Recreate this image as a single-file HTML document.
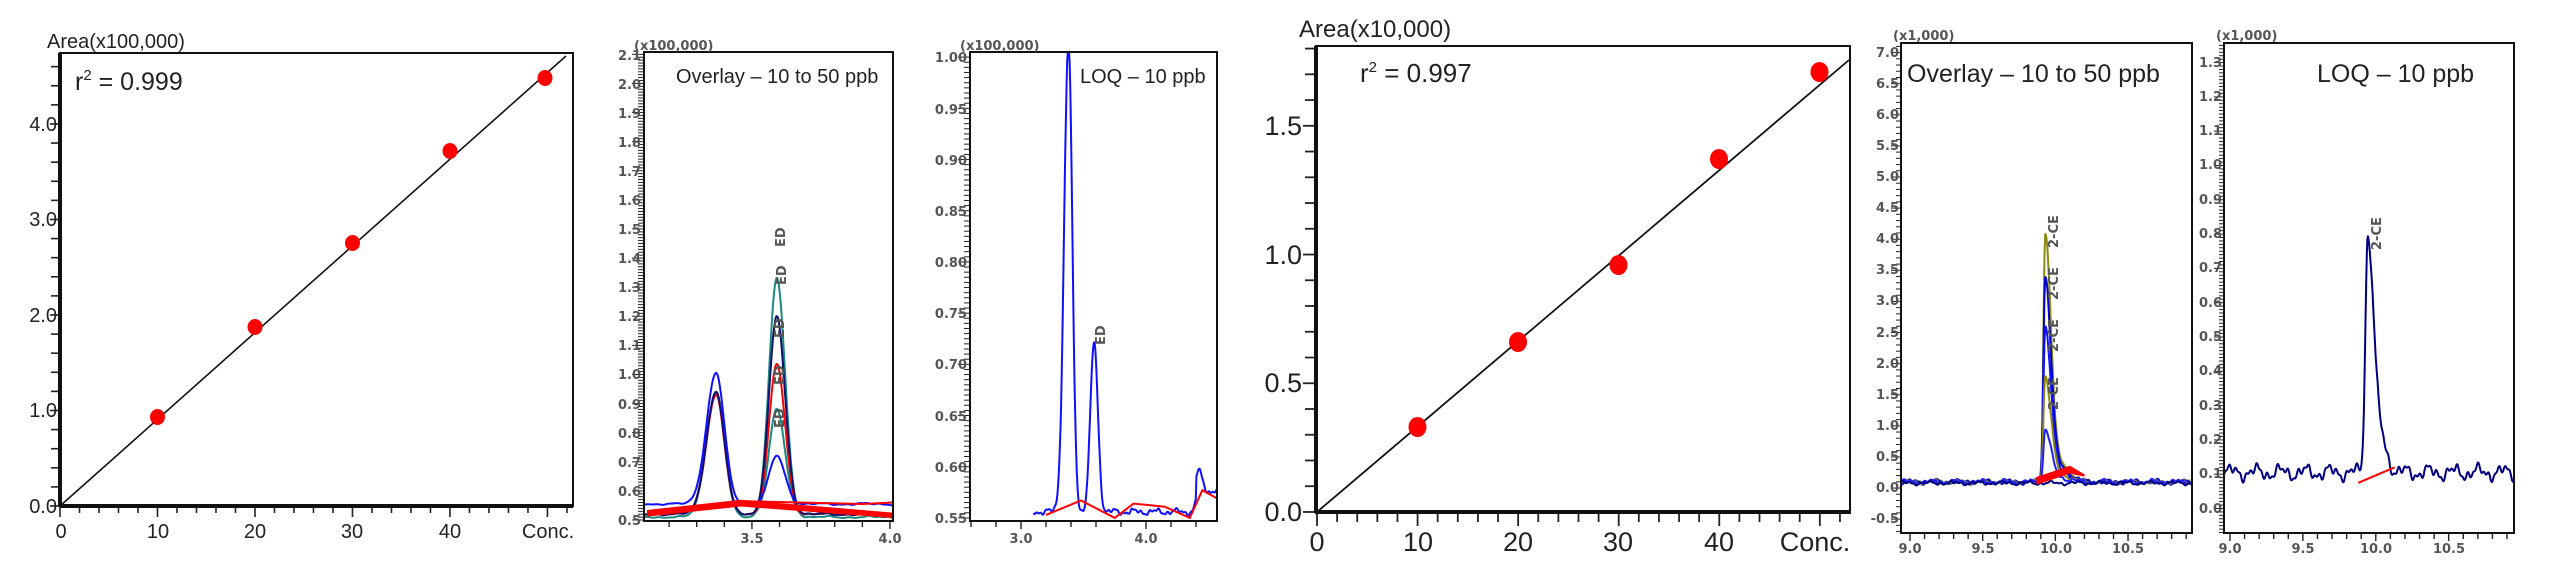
<!DOCTYPE html>
<html><head><meta charset="utf-8"><style>
html,body{margin:0;padding:0;background:#fff;width:2549px;height:582px;overflow:hidden}
svg{display:block}
.a{font-family:"Liberation Sans",sans-serif;fill:#222}
.c{font-family:"DejaVu Sans",sans-serif;font-weight:bold;fill:#555;font-size:13px}
.t{font-family:"Liberation Sans",sans-serif;fill:#222}
</style></head><body>
<svg id="s" width="2549" height="582" viewBox="0 0 2549 582" xmlns="http://www.w3.org/2000/svg">
<g id="g"></g>
<!-- boxes -->
<g fill="none" stroke="#111">
<rect x="60" y="53" width="513" height="453" stroke-width="2"/>
<rect x="644" y="52" width="249" height="469" stroke-width="2"/>
<rect x="970" y="52" width="247" height="469" stroke-width="2"/>
<rect x="1316" y="46" width="534" height="467" stroke-width="2"/>
<rect x="1901" y="43" width="291" height="490" stroke-width="2"/>
<rect x="2224" y="43" width="290" height="490" stroke-width="2"/>
</g>
<line x1="60" y1="53" x2="60" y2="506" stroke="#111" stroke-width="4"/>
<line x1="60" y1="506" x2="573" y2="506" stroke="#111" stroke-width="4"/>
<line x1="1316" y1="46" x2="1316" y2="513" stroke="#111" stroke-width="4"/>
<line x1="1316" y1="512" x2="1850" y2="512" stroke="#111" stroke-width="4"/>
<!-- calibration lines -->
<line x1="60" y1="506" x2="566" y2="56" stroke="#111" stroke-width="1.6"/>
<line x1="1317" y1="512" x2="1849" y2="60" stroke="#111" stroke-width="1.8"/>
<g fill="#f00">
<ellipse cx="157.5" cy="417" rx="7.5" ry="8"/><ellipse cx="255" cy="327" rx="7.5" ry="8"/><ellipse cx="352.5" cy="243" rx="7.5" ry="8"/><ellipse cx="450" cy="151" rx="7.5" ry="8"/><ellipse cx="545" cy="78" rx="7.5" ry="8"/>
<ellipse cx="1417.5" cy="427" rx="9" ry="10"/><ellipse cx="1518" cy="342" rx="9" ry="10"/><ellipse cx="1618.5" cy="265" rx="9" ry="10"/><ellipse cx="1719" cy="159" rx="9" ry="10"/><ellipse cx="1819.5" cy="72" rx="9" ry="10"/>
</g>
<!-- panel 1 text -->
<text class="a" x="47" y="48" font-size="20">Area(x100,000)</text>
<text class="t" x="75" y="90" font-size="25">r<tspan dy="-10" font-size="15">2</tspan><tspan dy="10"> = 0.999</tspan></text>
<g class="a" font-size="20" text-anchor="end">
<text x="57" y="513">0.0</text><text x="57" y="417">1.0</text><text x="57" y="322">2.0</text><text x="57" y="226">3.0</text><text x="57" y="131">4.0</text>
</g>
<g class="a" font-size="20" text-anchor="middle">
<text x="61" y="538">0</text><text x="158" y="538">10</text><text x="255" y="538">20</text><text x="352" y="538">30</text><text x="450" y="538">40</text><text x="548" y="538">Conc.</text>
</g>
<!-- panel 4 text -->
<text class="a" x="1299" y="37" font-size="24">Area(x10,000)</text>
<text class="t" x="1360" y="82" font-size="26">r<tspan dy="-10" font-size="15">2</tspan><tspan dy="10"> = 0.997</tspan></text>
<g class="a" font-size="27" text-anchor="end">
<text x="1302" y="521">0.0</text><text x="1302" y="392">0.5</text><text x="1302" y="264">1.0</text><text x="1302" y="135">1.5</text>
</g>
<g class="a" font-size="27" text-anchor="middle">
<text x="1317" y="551">0</text><text x="1418" y="551">10</text><text x="1518" y="551">20</text><text x="1618" y="551">30</text><text x="1719" y="551">40</text><text x="1815" y="551">Conc.</text>
</g>
<!-- panel 2 text -->
<text class="c" x="634" y="50" font-size="12">(x100,000)</text>
<text class="t" x="676" y="83" font-size="20">Overlay – 10 to  50 ppb</text>
<g class="c" text-anchor="end">
<text x="641" y="525">0.5</text><text x="641" y="496">0.6</text><text x="641" y="467">0.7</text><text x="641" y="438">0.8</text><text x="641" y="409">0.9</text><text x="641" y="379">1.0</text><text x="641" y="350">1.1</text><text x="641" y="321">1.2</text><text x="641" y="292">1.3</text><text x="641" y="263">1.4</text><text x="641" y="234">1.5</text><text x="641" y="205">1.6</text><text x="641" y="176">1.7</text><text x="641" y="147">1.8</text><text x="641" y="118">1.9</text><text x="641" y="89">2.0</text><text x="641" y="60">2.1</text>
</g>
<g class="c" text-anchor="middle"><text x="752" y="543">3.5</text><text x="890" y="543">4.0</text></g>
<!-- panel 3 text -->
<text class="c" x="960" y="50" font-size="12">(x100,000)</text>
<text class="t" x="1080" y="83" font-size="20">LOQ – 10 ppb</text>
<g class="c" text-anchor="end">
<text x="967" y="523">0.55</text><text x="967" y="472">0.60</text><text x="967" y="421">0.65</text><text x="967" y="369">0.70</text><text x="967" y="318">0.75</text><text x="967" y="267">0.80</text><text x="967" y="216">0.85</text><text x="967" y="165">0.90</text><text x="967" y="114">0.95</text><text x="967" y="62">1.00</text>
</g>
<g class="c" text-anchor="middle"><text x="1021" y="543">3.0</text><text x="1146" y="543">4.0</text></g>
<!-- panel 5 text -->
<text class="c" x="1893" y="40" font-size="11">(x1,000)</text>
<text class="t" x="1907" y="82" font-size="25">Overlay – 10 to 50 ppb</text>
<g class="c" text-anchor="end" font-size="12">
<text x="1899" y="523">-0.5</text><text x="1899" y="492">0.0</text><text x="1899" y="461">0.5</text><text x="1899" y="430">1.0</text><text x="1899" y="399">1.5</text><text x="1899" y="368">2.0</text><text x="1899" y="337">2.5</text><text x="1899" y="305">3.0</text><text x="1899" y="274">3.5</text><text x="1899" y="243">4.0</text><text x="1899" y="212">4.5</text><text x="1899" y="181">5.0</text><text x="1899" y="150">5.5</text><text x="1899" y="119">6.0</text><text x="1899" y="88">6.5</text><text x="1899" y="57">7.0</text>
</g>
<g class="c" text-anchor="middle" font-size="12"><text x="1910" y="553">9.0</text><text x="1983" y="553">9.5</text><text x="2056" y="553">10.0</text><text x="2128" y="553">10.5</text></g>
<!-- panel 6 text -->
<text class="c" x="2216" y="40" font-size="11">(x1,000)</text>
<text class="t" x="2317" y="82" font-size="25">LOQ – 10 ppb</text>
<g class="c" text-anchor="end" font-size="12">
<text x="2222" y="513">0.0</text><text x="2222" y="478">0.1</text><text x="2222" y="444">0.2</text><text x="2222" y="410">0.3</text><text x="2222" y="375">0.4</text><text x="2222" y="341">0.5</text><text x="2222" y="307">0.6</text><text x="2222" y="272">0.7</text><text x="2222" y="238">0.8</text><text x="2222" y="204">0.9</text><text x="2222" y="169">1.0</text><text x="2222" y="135">1.1</text><text x="2222" y="101">1.2</text><text x="2222" y="67">1.3</text>
</g>
<g class="c" text-anchor="middle" font-size="12"><text x="2230" y="553">9.0</text><text x="2303" y="553">9.5</text><text x="2376" y="553">10.0</text><text x="2449" y="553">10.5</text></g>
<!-- peak labels -->
<g class="c" font-size="10" fill="#333">
<text transform="translate(785,247) rotate(-90)">ED</text>
<text transform="translate(786,285) rotate(-90)">ED</text>
<text transform="translate(784,338) rotate(-90)">ED</text>
<text transform="translate(784,385) rotate(-90)">ED</text>
<text transform="translate(784,428) rotate(-90)">ED</text>
<text transform="translate(1105,345) rotate(-90)">ED</text>
<text transform="translate(2058,248) rotate(-90)">2-CE</text>
<text transform="translate(2058,300) rotate(-90)">2-CE</text>
<text transform="translate(2058,352) rotate(-90)">2-CE</text>
<text transform="translate(2058,410) rotate(-90)">2-CE</text>
<text transform="translate(2381,250) rotate(-90)">2-CE</text>
</g>
</svg>
<script>
(function(){
var NS="http://www.w3.org/2000/svg",g=document.getElementById("g");
function el(t,a){var e=document.createElementNS(NS,t);for(var k in a)e.setAttribute(k,a[k]);g.appendChild(e);return e;}
function P(L,R,T,B,x0,x1,y0,y1){return{L:L,R:R,T:T,B:B,X:function(v){return L+(v-x0)/(x1-x0)*(R-L)},Y:function(v){return B-(v-y0)/(y1-y0)*(B-T)}};}
var p1=P(60,573,53,506,0,52.62,0,4.743),p4=P(1316,1850,46,513,-0.1,53,-0.004,1.81),
p2=P(644,893,52,521,3.109,4.011,0.4966,2.108),p3=P(970,1217,52,521,2.592,4.568,0.547,1.005),
p5=P(1901,2192,43,533,8.938,10.94,-0.723,7.154),p6=P(2224,2514,43,533,8.959,10.948,-0.0714,1.357);
function yt(p,a,b,s,mj,lm,lM,w){for(var v=a;v<=b+1e-9;v+=s){var y=p.Y(v);if(y<p.T-1||y>p.B+1)continue;var m=Math.abs(v/mj-Math.round(v/mj))<1e-6;el("line",{x1:p.L-(m?lM:lm),x2:p.L,y1:y,y2:y,stroke:"#222","stroke-width":w});}}
function xt(p,a,b,s,mj,lm,lM,w){for(var v=a;v<=b+1e-9;v+=s){var x=p.X(v);if(x<p.L-1||x>p.R+1)continue;var m=Math.abs(v/mj-Math.round(v/mj))<1e-6;el("line",{x1:x,x2:x,y1:p.B,y2:p.B+(m?lM:lm),stroke:"#222","stroke-width":w});}}
yt(p1,0,4.7,0.2,1,9,10,1.6);xt(p1,0,52,2,10,7,11,1.6);
yt(p4,0,1.8,0.1,0.5,11,13,1.8);xt(p4,0,52,2,10,9,13,1.8);
yt(p2,0.5,2.1,0.01,0.1,6,12,1);xt(p2,3.2,4.0,0.1,0.5,6,8,1.4);
yt(p3,0.55,1.0,0.005,0.05,6,12,1);xt(p3,2.6,4.6,0.2,1,6,8,1.4);
yt(p5,-0.7,7.1,0.1,0.5,5,10,1);xt(p5,9.0,10.9,0.1,0.5,6,8,1.4);
yt(p6,-0.07,1.35,0.01,0.1,5,10,1);xt(p6,9.0,10.9,0.1,0.5,6,8,1.4);
function nz(x,s){return Math.sin(x*37.1+s)*0.5+Math.sin(x*91.7+s*2.3)*0.3+Math.sin(x*173.3+s*0.7)*0.2;}
function ga(x,m,sl,sr){var s=x<m?sl:sr;var d=(x-m)/s;return Math.exp(-d*d/2);}
function curve(p,f,a,b,n,col,w){var d="";for(var i=0;i<=n;i++){var x=a+(b-a)*i/n;var y=f(x);var Y=Math.max(p.T,Math.min(p.B,p.Y(y)));d+=(i?"L":"M")+p.X(x).toFixed(1)+","+Y.toFixed(1);}el("path",{d:d,fill:"none",stroke:col,"stroke-width":w,"stroke-linejoin":"round"});}
function poly(p,pts,col,w){var d="";pts.forEach(function(q,i){d+=(i?"L":"M")+p.X(q[0]).toFixed(1)+","+p.Y(q[1]).toFixed(1);});el("path",{d:d,fill:"none",stroke:col,"stroke-width":w});}
// panel 2
var A=3.109,B=4.011;
[[0.51,0.94,1.33,"#1a8a80",0.1],[0.52,0.94,0.88,"#1a8a80",0.3],[0.52,0.93,1.035,"#ff0000",0.5],[0.52,0.94,1.2,"#101070",0.7],[0.555,1.005,0.72,"#1010ff",0.9]].forEach(function(c){
 curve(p2,function(x){var b=c[0]+(x>3.7?(0.515-c[0])*0+0.005*nz(x,c[4]):0.004*nz(x,c[4]));return b+(c[1]-c[0])*ga(x,3.37,0.035,0.03)+(c[2]-c[0])*ga(x,3.59,0.028,0.03)+(c[3]>0.6?0:0);},A,B,220,c[3],2);
});
for(var k=0;k<5;k++){poly(p2,[[3.12,0.515+k*0.004],[3.46,0.55+k*0.004],[4.01,0.51+k*0.003]],"#ff0000",2);}
poly(p2,[[3.12,0.53],[3.45,0.565],[3.9,0.555],[4.01,0.56]],"#ff0000",2);
// panel 3
curve(p3,function(x){return 0.556+0.004*nz(x,1.1)+0.46*ga(x,3.38,0.035,0.03)+0.165*ga(x,3.585,0.03,0.03)+(x>4.4?0.02:0)+0.02*ga(x,4.42,0.02,0.03);},3.1,4.57,300,"#1010ff",2);
poly(p3,[[3.2,0.553],[3.48,0.567],[3.75,0.55],[3.9,0.564],[4.15,0.561],[4.35,0.55],[4.45,0.577],[4.57,0.569]],"#ff0000",2);
// panel 5
[[4.0,"#8a8a10",0.1],[3.3,"#0000cc",0.4],[2.5,"#1010ff",0.8],[1.7,"#8a8a10",1.2],[0.85,"#2020ff",1.6]].forEach(function(c){
 curve(p5,function(x){return 0.1+0.05*nz(x,c[2])+(c[0])*ga(x,9.93,0.012,0.04)+0.25*ga(x,10.05,0.05,0.06)*(c[0]/4);},8.94,10.94,400,c[1],2);
});
curve(p5,function(x){return 0.08+0.04*nz(x,2.2);},8.94,10.94,400,"#000080",2);
for(var k=0;k<4;k++)poly(p5,[[9.87,0.07+k*0.03],[10.1,0.25+k*0.03],[10.2,0.2]],"#ff0000",2.2);
// panel 6
curve(p6,function(x){return 0.105+0.03*nz(x,0.3)+0.69*ga(x,9.945,0.017,0.045)+0.06*ga(x,10.05,0.02,0.04);},8.96,10.948,500,"#000080",2);
poly(p6,[[9.88,0.075],[10.13,0.12]],"#ff0000",2);
})();
</script>
</body></html>
